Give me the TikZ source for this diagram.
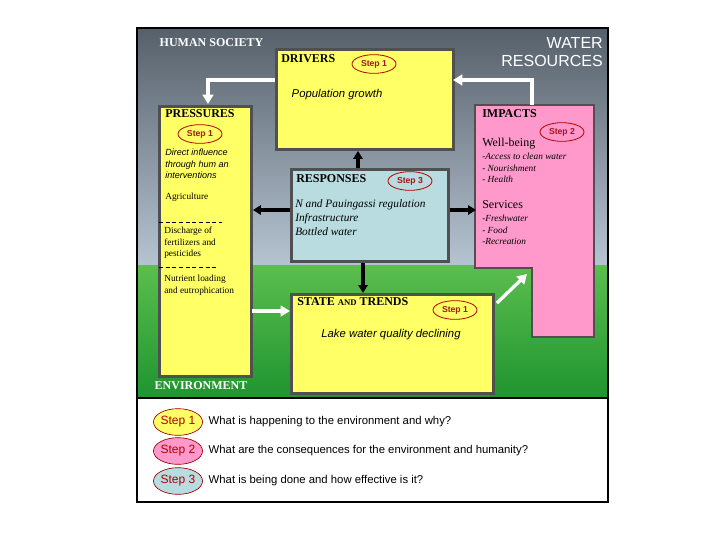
\documentclass[tikz,border=0pt]{standalone}
\usepackage{fontspec}
\setmainfont{Liberation Serif}
\newfontfamily\arial{Liberation Sans}
\usetikzlibrary{arrows.meta,shapes.geometric}
\definecolor{ybox}{HTML}{FFFF66}
\definecolor{pbox}{HTML}{FF99CC}
\definecolor{bbox}{HTML}{B8DCE0}
\definecolor{edge}{HTML}{505050}
\definecolor{skytop}{HTML}{56606A}
\definecolor{skybot}{HTML}{B6C4D2}
\definecolor{grtop}{HTML}{5BBE4E}
\definecolor{grbot}{HTML}{1F9430}
\definecolor{stepred}{HTML}{A01818}
\begin{document}
\begin{tikzpicture}[x=0.75pt,y=-0.75pt,
  box/.style={draw=edge,line width=2.2pt},
  stepov/.style={ellipse,draw=red!70!black,line width=0.6pt,inner sep=0.5pt,minimum width=33pt,minimum height=14pt,font=\arial\bfseries\fontsize{6.5}{7}\selectfont,text=stepred},
  legov/.style={ellipse,draw=red!60!black,line width=0.5pt,minimum width=35pt,minimum height=20pt,inner sep=0pt,font=\arial\fontsize{9}{10}\selectfont,text=red!70!black},
  wa/.style={draw=white,line width=2.5pt,-{Triangle[length=7pt,width=8pt]}},
  ba/.style={draw=black,line width=2.5pt,-{Triangle[length=6pt,width=7pt]}},
  ttl/.style={font=\fontsize{9}{10}\selectfont\bfseries,anchor=north west,inner sep=0pt},
  it/.style={font=\fontsize{7}{8.5}\selectfont\itshape,anchor=north west,inner sep=0pt,align=left},
  sm/.style={font=\fontsize{7}{8.5}\selectfont,anchor=north west,inner sep=0pt,align=left}]
\useasboundingbox (0,0) rectangle (720,540);
\fill[white] (0,0) rectangle (720,540);
\shade[top color=skytop,bottom color=skybot] (137,28) rectangle (608,266);
\shade[top color=grtop,bottom color=grbot] (137,265) rectangle (608,398);
\draw[black,line width=2.2pt] (137,28) rectangle (608,502);
\draw[black,line width=2.2pt] (137,398) -- (608,398);
\node[font=\fontsize{9}{10}\selectfont\bfseries,text=white,anchor=west] (hs) at (155,43) {HUMAN SOCIETY};
\node[font=\arial\fontsize{12}{13.5}\selectfont,text=white,align=right,anchor=north east,inner sep=0pt] (wr) at (603,37) {WATER\\RESOURCES};
\node[font=\fontsize{9}{10}\selectfont\bfseries,text=white,anchor=west] (env) at (150,386) {ENVIRONMENT};
% boxes
\fill[pbox] (475,105) -- (594,105) -- (594,337) -- (532,337) -- (532,268) -- (475,268) -- cycle;
\draw[box] (475,105) -- (594,105) -- (594,337) -- (532,337) -- (532,268) -- (475,268) -- cycle;
\coordinate (imp) at (532,105);
\node[box,fill=ybox,minimum width=177*0.75pt,minimum height=100*0.75pt,anchor=north west,inner sep=0] (drv) at (275,48) {};
\node[box,fill=ybox,minimum width=92*0.75pt,minimum height=270*0.75pt,anchor=north west,inner sep=0] (prs) at (158,105) {};
\node[box,fill=bbox,minimum width=157*0.75pt,minimum height=92*0.75pt,anchor=north west,inner sep=0] (rsp) at (290,168) {};
\node[box,fill=ybox,minimum width=202*0.75pt,minimum height=99*0.75pt,anchor=north west,inner sep=0] (st) at (290,293) {};
% arrows
\draw[wa] (drv.west|-0,80) -| (208,104);
\draw[wa] (imp) |- (453,80);
\draw[ba] (rsp.north-|358,0) -- (drv.south-|358,0);
\draw[ba] (rsp.west|-0,210) -- (prs.east|-0,210);
\draw[ba] (rsp.east|-0,210) -- (476,210);
\draw[ba] (rsp.south-|363,0) -- (st.north-|363,0);
\draw[wa] (252,311) -- (290,311);
\coordinate (tip) at (527,274);
\draw[wa] (st.north east) ++(2,10) -- (tip);
% texts
\node[ttl] (t1) at (281,54) {DRIVERS};
\node[stepov] (s1) at (374,64) {Step 1};
\node[font=\arial\itshape\fontsize{8.5}{10}\selectfont,anchor=west] (t2) at (287,95) {Population growth};
\node[ttl] (t3) at (165,109) {PRESSURES};
\node[stepov] (s2) at (200,134) {Step 1};
\node[font=\arial\itshape\fontsize{6.8}{8.5}\selectfont,anchor=north west,inner sep=0pt,align=left] (t4) at (165,149) {Direct influence\\through hum an\\interventions};
\node[sm] (t5) at (165,193) {Agriculture};
\draw[dashed,black,line width=0.4pt,dash pattern=on 3pt off 2pt] (159,222) -- (222,222);
\node[sm] (t6) at (164,227) {Discharge of\\fertilizers and\\pesticides};
\draw[dashed,black,line width=0.4pt,dash pattern=on 3pt off 2pt] (159,267) -- (218,267);
\node[sm] (t7) at (164,275) {Nutrient loading\\and eutrophication};
\node[ttl] (t8) at (482,109) {IMPACTS};
\node[stepov] (s3) at (562,132) {Step 2};
\node[sm,font=\fontsize{9}{10}\selectfont] (t9) at (482,138) {Well-being};
\node[it] (t10) at (482,153) {-Access to clean water\\- Nourishment\\- Health};
\node[sm,font=\fontsize{9}{10}\selectfont] (t11) at (482,200) {Services};
\node[it] (t12) at (482,215) {-Freshwater\\- Food\\-Recreation};
\node[ttl] (t13) at (296,174) {RESPONSES};
\node[stepov] (s4) at (410,181) {Step 3};
\node[font=\fontsize{8.5}{10.5}\selectfont\itshape,anchor=north west,inner sep=0pt,align=left] (t14) at (295,199) {N and Pauingassi regulation\\Infrastructure\\Bottled water};
\node[ttl] (t15) at (297,297) {STATE {\fontsize{6.5}{8}\selectfont AND} TRENDS};
\node[stepov] (s5) at (455,310) {Step 1};
\node[font=\arial\itshape\fontsize{8.5}{10}\selectfont] (t16) at (391,335) {Lake water quality declining};
% legend
\node[legov,fill=ybox] (l1) at (178,422) {Step 1};
\node[legov,fill=pbox] (l2) at (178,451) {Step 2};
\node[legov,fill=bbox] (l3) at (178,481) {Step 3};
\node[font=\arial\fontsize{8.5}{10}\selectfont,anchor=west] (q1) at (204,422) {What is happening to the environment and why?};
\node[font=\arial\fontsize{8.5}{10}\selectfont,anchor=west] (q2) at (204,451) {What are the consequences for the environment and humanity?};
\node[font=\arial\fontsize{8.5}{10}\selectfont,anchor=west] (q3) at (204,481) {What is being done and how effective is it?};
\end{tikzpicture}
\end{document}
